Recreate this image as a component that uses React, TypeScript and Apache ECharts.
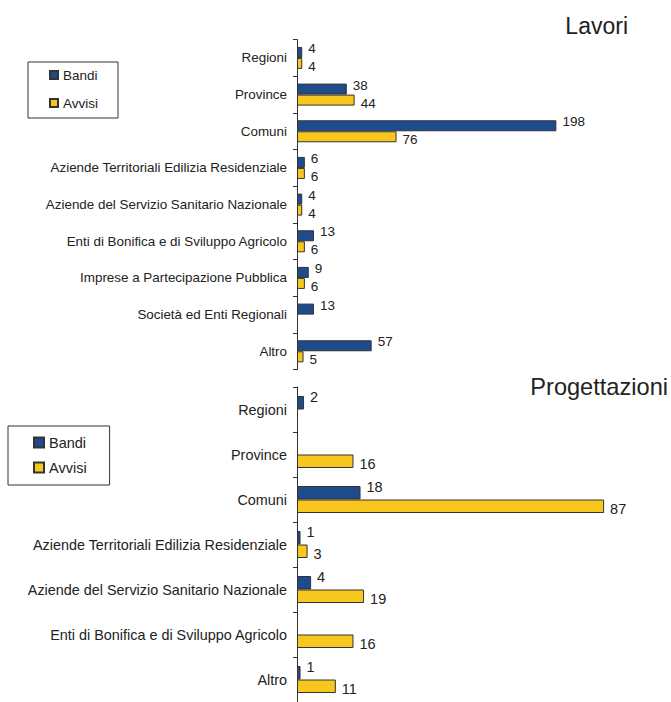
import React, { useEffect, useRef } from "react";
import * as echarts from "echarts";

const lavoriCategories = [
  "Regioni",
  "Province",
  "Comuni",
  "Aziende Territoriali Edilizia Residenziale",
  "Aziende del Servizio Sanitario Nazionale",
  "Enti di Bonifica e di Sviluppo Agricolo",
  "Imprese a Partecipazione Pubblica",
  "Società ed Enti Regionali",
  "Altro",
];
const lavoriBandi: (number | string)[] = [4, 38, 198, 6, 4, 13, 9, 13, 57];
const lavoriAvvisi: (number | string)[] = [4, 44, 76, 6, 4, 6, 6, "-", 5];

const progCategories = [
  "Regioni",
  "Province",
  "Comuni",
  "Aziende Territoriali Edilizia Residenziale",
  "Aziende del Servizio Sanitario Nazionale",
  "Enti di Bonifica e di Sviluppo Agricolo",
  "Altro",
];
const progBandi: (number | string)[] = [2, "-", 18, 1, 4, "-", 1];
const progAvvisi: (number | string)[] = ["-", 16, 87, 3, 19, 16, 11];

const seriesNames = ["Bandi", "Avvisi"];

const BLUE = "#1f4a8c";
const YELLOW = "#f8c71e";
const BORDER = "#333333";
const TEXT = "#222222";
const FONT = "'Liberation Sans', Arial, Helvetica, sans-serif";

export default function App() {
  const ref = useRef<HTMLDivElement>(null);

  useEffect(() => {
    document.body.style.margin = "0";
    if (!ref.current) return;
    const chart = echarts.init(ref.current, undefined, { renderer: "svg" });

    const yAxisCommon = (cats: string[], fs: number) => ({
      type: "category" as const,
      data: cats,
      inverse: true,
      axisLine: { show: true, lineStyle: { color: BORDER, width: 1 } },
      axisTick: { show: true, length: 4, lineStyle: { color: BORDER } },
      axisLabel: { color: TEXT, fontSize: fs, fontFamily: FONT, margin: 10 },
    });

    const barSeries = (
      name: string,
      data: (number | string)[],
      idx: number,
      color: string,
      fs: number,
      offY: number
    ) => ({
      name,
      type: "bar" as const,
      xAxisIndex: idx,
      yAxisIndex: idx,
      data,
      barGap: "0%",
      barCategoryGap: "40%",
      itemStyle: { color, borderColor: BORDER, borderWidth: 1 },
      label: {
        show: true,
        position: "right" as const,
        distance: 6,
        offset: [0, offY],
        color: TEXT,
        fontSize: fs,
        fontFamily: FONT,
      },
    });

    chart.setOption({
      animation: false,
      textStyle: { fontFamily: FONT },
      title: [
        {
          text: "Lavori",
          right: 43,
          top: 14,
          padding: 0,
          textStyle: { fontSize: 23, fontWeight: "normal", color: TEXT, fontFamily: FONT },
        },
        {
          text: "Progettazioni",
          right: 3,
          top: 375,
          padding: 0,
          textStyle: { fontSize: 23.6, fontWeight: "normal", color: TEXT, fontFamily: FONT },
        },
      ],
      legend: [
        {
          data: seriesNames,
          orient: "vertical",
          left: 28,
          top: 62,
          icon: "rect",
          itemWidth: 8,
          itemHeight: 8,
          itemGap: 14,
          padding: [6, 20, 8, 21],
          borderColor: BORDER,
          borderWidth: 1,
          textStyle: { fontSize: 13.5, lineHeight: 14, color: TEXT, fontFamily: FONT },
        },
        {
          data: seriesNames,
          orient: "vertical",
          left: 8,
          top: 426,
          icon: "rect",
          itemWidth: 10,
          itemHeight: 10,
          itemGap: 10,
          padding: [9, 23, 10, 25],
          borderColor: BORDER,
          borderWidth: 1,
          textStyle: { fontSize: 14.5, lineHeight: 14, color: TEXT, fontFamily: FONT },
        },
      ],
      grid: [
        { left: 297, top: 39.6, width: 327.5, height: 330 },
        { left: 297, top: 387, width: 353, height: 315 },
      ],
      xAxis: [
        { type: "value", gridIndex: 0, min: 0, max: 250, show: false, splitLine: { show: false } },
        { type: "value", gridIndex: 1, min: 0, max: 100, show: false, splitLine: { show: false } },
      ],
      yAxis: [
        { ...yAxisCommon(lavoriCategories, 13.4), gridIndex: 0 },
        { ...yAxisCommon(progCategories, 14.4), gridIndex: 1 },
      ],
      series: [
        barSeries("Bandi", lavoriBandi, 0, BLUE, 13.5, -4),
        barSeries("Avvisi", lavoriAvvisi, 0, YELLOW, 13.5, 3),
        barSeries("Bandi", progBandi, 1, BLUE, 14.5, -6),
        barSeries("Avvisi", progAvvisi, 1, YELLOW, 14.5, 3),
      ],
    });

    return () => chart.dispose();
  }, []);

  return <div ref={ref} style={{ width: 671, height: 702 }} />;
}
